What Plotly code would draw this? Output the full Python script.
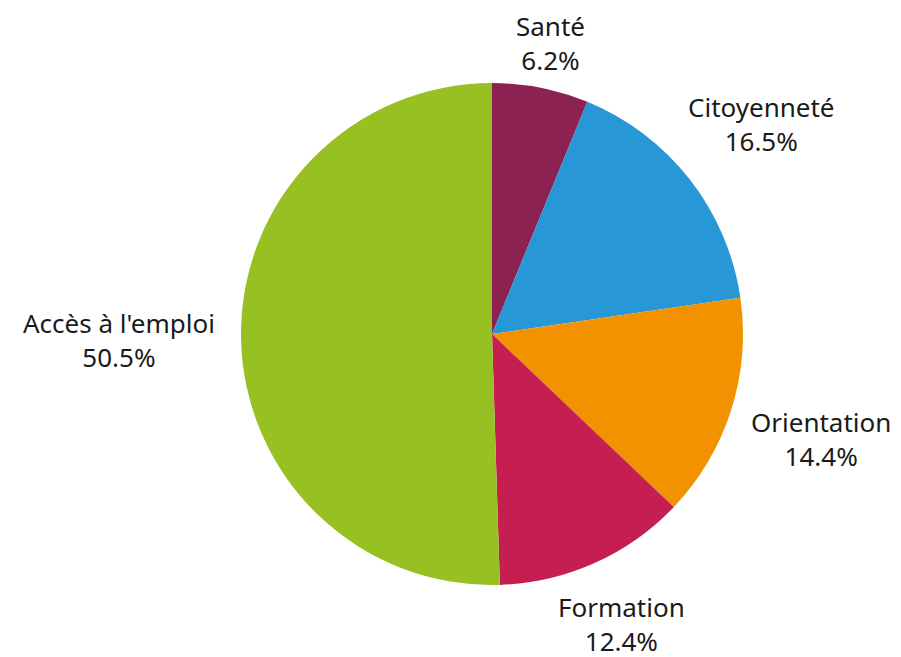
import math
import plotly.graph_objects as go

categories = ["Santé", "Citoyenneté", "Orientation", "Formation", "Accès à l'emploi"]
values = [6.2, 16.5, 14.4, 12.4, 50.5]
colors = ["#8B2252", "#2897D5", "#F29200", "#C51F52", "#97C122"]

# layout constants (pixels in the figure)
W, H = 901, 657
CX, CY, R = 484, 326, 251
GAP = 14
FONT_SIZE = 26
CHAR_W = 13.5
LABEL_H = 60
BOX_H = 2 * 1.3 * FONT_SIZE

fig = go.Figure(go.Pie(
    labels=categories,
    values=values,
    sort=False,
    direction="clockwise",
    rotation=0,
    marker=dict(colors=colors, line=dict(width=0)),
    textinfo="none",
    showlegend=False,
    hoverinfo="label+percent",
    domain=dict(x=[(CX - R) / W, (CX + R) / W],
                y=[(H - CY - R) / H, (H - CY + R) / H]),
))

# labels placed outside, along each slice's bisector
total = sum(values)
cum = 0.0
for cat, val in zip(categories, values):
    theta = 2 * math.pi * (cum + val / 2) / total
    cum += val
    dx, dy = math.sin(theta), -math.cos(theta)
    w = len(cat) * CHAR_W
    d = R + GAP + abs(dx) * w / 2 + abs(dy) * LABEL_H / 2
    px, py = CX + d * dx, CY + d * dy
    py = min(max(py, BOX_H / 2 + 1), H - BOX_H / 2 - 1)
    fig.add_annotation(
        x=px / W, y=(H - py) / H, xref="paper", yref="paper",
        text=f"{cat}<br>{val / total * 100:.1f}%",
        showarrow=False, xanchor="center", yanchor="middle", align="center",
        borderpad=0, borderwidth=0,
        font=dict(family="Noto Sans, sans-serif", size=FONT_SIZE, color="#1a1a1a"),
    )

fig.update_layout(
    width=W, height=H,
    margin=dict(l=0, r=0, t=0, b=0),
    paper_bgcolor="white",
)
fig.write_html("out.html")
